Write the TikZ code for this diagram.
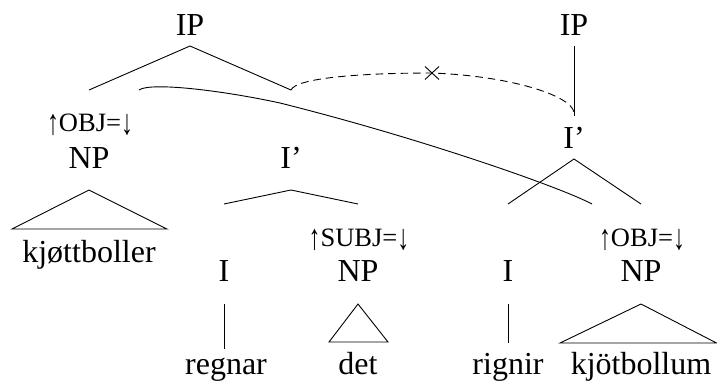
\documentclass[tikz,border=0pt]{standalone}
\usepackage{fontspec}
\setmainfont{Liberation Serif}
\newcommand{\uparr}{\raisebox{-0.12em}{\scalebox{0.9}[1.35]{↑}}}
\newcommand{\dnarr}{\raisebox{-0.12em}{\scalebox{0.9}[1.35]{↓}}}
\begin{document}
\begin{tikzpicture}[x=1pt,y=-1pt,
  lbl/.style={anchor=base,inner sep=0pt,font=\fontsize{32}{38}\selectfont},
  ann/.style={anchor=base,inner sep=0pt,font=\fontsize{26.5}{30}\selectfont},
  edge/.style={line width=0.9pt},
  link/.style={line width=0.9pt,dash pattern=on 7.5pt off 5pt}]
\useasboundingbox (0,0) rectangle (717,381);
% labels
\node[lbl] (ipL) at (190,35) {IP};
\node[lbl] (ipR) at (574,35) {IP};
\node[ann] (objL) at (90,131) {\uparr OBJ=\dnarr};
\node[lbl] (npL) at (89,168) {NP};
\node[lbl] (kjott) at (89,262) {kjøttboller};
\node[lbl] (ibarM) at (291,168) {I’};
\node[lbl] (iM) at (224,281) {I};
\node[lbl] (regnar) at (226,374) {regnar};
\node[ann] (subj) at (359,246) {\uparr SUBJ=\dnarr};
\node[lbl] (npM) at (358,281) {NP};
\node[lbl] (det) at (358,374) {det};
\node[lbl] (ibarR) at (574,148) {I’};
\node[lbl] (iR) at (508,281) {I};
\node[lbl] (rignir) at (508,374) {rignir};
\node[ann] (objR) at (642,246) {\uparr OBJ=\dnarr};
\node[lbl] (npR) at (641,281) {NP};
\node[lbl] (kjot) at (641,374) {kjötbollum};
% coordinates for tree lines
\coordinate (ipLa) at (190,46);
\coordinate (ipLl) at (89,90);
\coordinate (ipLr) at (291,90);
\coordinate (ipRa) at (574,46);
\coordinate (ipRb) at (574,116);
\coordinate (ibMa) at (291,190);
\coordinate (ibMl) at (224,204);
\coordinate (ibMr) at (358,204);
\coordinate (ibRa) at (574,159);
\coordinate (ibRl) at (508,204);
\coordinate (ibRr) at (641,204);
\coordinate (triLa) at (89,190);
\coordinate (triLl) at (12,229);
\coordinate (triLr) at (167,229);
\coordinate (triMa) at (358,304);
\coordinate (triMl) at (329,342);
\coordinate (triMr) at (388,342);
\coordinate (triRa) at (641,304);
\coordinate (triRl) at (560,343);
\coordinate (triRr) at (716.5,343);
\coordinate (iMa) at (224,304);
\coordinate (iMb) at (224,349);
\coordinate (iRa) at (508,304);
\coordinate (iRb) at (508,343);
\coordinate (cs) at (139,90);
\coordinate (cm) at (280,103);
\coordinate (ce) at (592,204);
\coordinate (xm) at (432,73);
\coordinate (de) at (574,112);
% tree edges
\draw[edge] (ipLl) -- (ipLa) -- (ipLr);
\draw[edge] (ipRa) -- (ipRb);
\draw[edge] (ibMl) -- (ibMa) -- (ibMr);
\draw[edge] (ibRl) -- (ibRa) -- (ibRr);
\draw[edge] (triLa) -- (triLl) -- (triLr) -- cycle;
\draw[edge] (triMa) -- (triMl) -- (triMr) -- cycle;
\draw[edge] (triRa) -- (triRl) -- (triRr) -- cycle;
\draw[edge] (iMa) -- (iMb);
\draw[edge] (iRa) -- (iRb);
% solid curve
\draw[edge] (cs) .. controls (150,82) and (220,90) .. (cm)
  .. controls (420,138) and (560,187) .. (ce);
% dashed curve
\draw[link] (ipLr) .. controls (296,78) and (360,73) .. (xm)
  .. controls (510,76) and (570,95) .. (de);
\draw[edge] ([shift={(-7,-6.5)}]xm) -- ([shift={(7,6.5)}]xm);
\draw[edge] ([shift={(-7,6.5)}]xm) -- ([shift={(7,-6.5)}]xm);
\end{tikzpicture}
\end{document}
